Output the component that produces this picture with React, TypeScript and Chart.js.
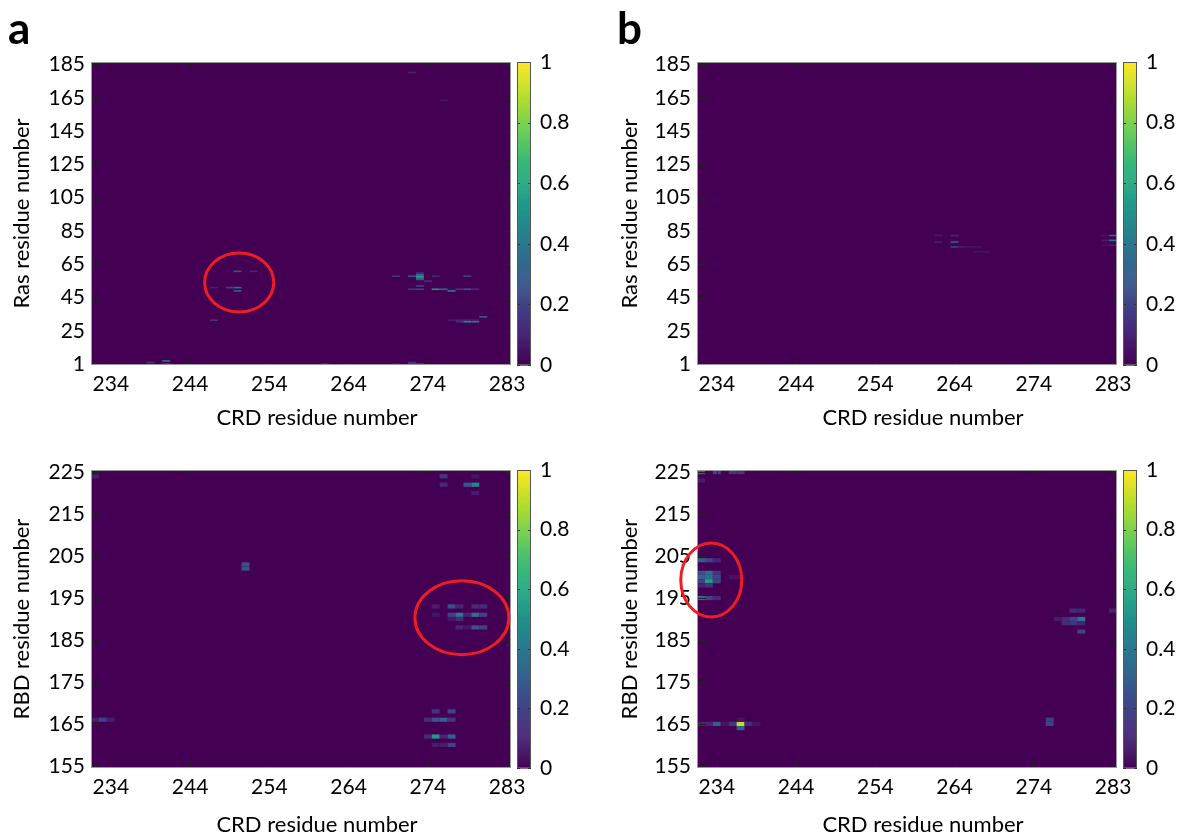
import React, { useEffect, useRef } from 'react';
import { Chart, registerables } from 'chart.js';
Chart.register(...registerables);

const FONT = 'Lato, "Open Sans", sans-serif';

// ---- axis tick labels ----
const crdTickLabels = ['234', '244', '254', '264', '274', '283'];
const crdTickStart = 234;
const crdTickStep = 10;
const rasTickLabels = ['1', '25', '45', '65', '85', '105', '125', '145', '165', '185'];
const rbdTickLabels = ['155', '165', '175', '185', '195', '205', '215', '225'];
const cbTickValues = [0, 0.2, 0.4, 0.6, 0.8, 1];
const xTitle = 'CRD residue number';

// ---- axis ranges (residue units) ----
const crdRange = [231.5, 284.5];
const rasRange = [0.5, 186.5];
const rbdRange = [154.5, 225.5];

// ---- contact maps: [CRD residue, partner residue, contact probability] ----
const rasCrdA: [number, number, number][] = [
  [250, 58, 0.25], [252, 58, 0.1], [247, 48, 0.08], [249, 48, 0.2], [250, 48, 0.35], [250, 46, 0.3], [247, 28, 0.15],
  [270, 55, 0.15], [272, 55, 0.25], [273, 57, 0.1], [273, 56, 0.35], [273, 55, 0.55], [273, 54, 0.5], [273, 53, 0.3],
  [274, 52, 0.12], [275, 55, 0.1], [279, 55, 0.2], [273, 49, 0.2],
  [272, 47, 0.15], [273, 47, 0.2], [275, 47, 0.5], [276, 47, 0.3], [277, 46, 0.4], [278, 47, 0.15], [279, 47, 0.25], [280, 47, 0.12],
  [277, 28, 0.08], [278, 28, 0.1], [279, 28, 0.12], [280, 28, 0.1], [278, 27, 0.12], [279, 27, 0.45], [280, 27, 0.35], [281, 30, 0.3],
  [239, 2, 0.15], [241, 3, 0.35], [241, 1, 0.2], [261, 1, 0.15], [270, 1, 0.1], [272, 1, 0.25], [273, 1, 0.25], [272, 2, 0.15],
  [272, 180, 0.1], [276, 163, 0.06],
];

const rbdCrdA: [number, number, number][] = [
  [276, 224, 0.15], [276, 222, 0.12], [279, 222, 0.25], [280, 222, 0.45], [280, 224, 0.05], [280, 220, 0.08], [232, 224, 0.08],
  [251, 203, 0.25], [251, 202, 0.25], [232, 166, 0.08], [233, 166, 0.2], [234, 166, 0.08],
  [277, 193, 0.25], [275, 193, 0.08], [278, 193, 0.1], [280, 193, 0.12], [281, 193, 0.12],
  [275, 191, 0.06], [277, 191, 0.2], [278, 191, 0.4], [279, 191, 0.1], [280, 191, 0.35], [281, 191, 0.2],
  [277, 190, 0.06], [278, 190, 0.12], [278, 188, 0.1], [279, 188, 0.06], [280, 188, 0.25], [281, 188, 0.2],
  [275, 168, 0.15], [277, 168, 0.2], [274, 166, 0.12], [275, 166, 0.25], [276, 166, 0.3], [277, 166, 0.15],
  [274, 162, 0.12], [275, 162, 0.55], [276, 162, 0.1], [277, 162, 0.3], [275, 160, 0.08], [276, 160, 0.08], [277, 160, 0.2],
];

const rasCrdB: [number, number, number][] = [
  [262, 80, 0.08], [264, 80, 0.1], [262, 76, 0.08], [264, 76, 0.3], [264, 73, 0.2], [265, 73, 0.08], [266, 73, 0.06],
  [267, 73, 0.05], [267, 70, 0.05], [268, 70, 0.05],
  [284, 80, 0.3], [284, 77, 0.4], [284, 74, 0.1], [283, 77, 0.08], [283, 74, 0.05], [283, 80, 0.05],
];

const rbdCrdB: [number, number, number][] = [
  [232, 225, 0.3], [234, 225, 0.2], [236, 225, 0.15], [237, 225, 0.15], [232, 223, 0.08],
  [232, 204, 0.3], [233, 204, 0.2], [234, 204, 0.1],
  [232, 201, 0.25], [233, 201, 0.35], [234, 201, 0.15],
  [232, 200, 0.3], [233, 200, 0.35], [234, 200, 0.2],
  [232, 199, 0.2], [233, 199, 0.55], [234, 199, 0.2],
  [232, 198, 0.1], [233, 198, 0.15],
  [232, 195, 0.35], [233, 195, 0.2], [234, 195, 0.12],
  [236, 200, 0.05], [237, 200, 0.05],
  [232, 165, 0.1], [233, 165, 0.1], [234, 165, 0.3], [235, 165, 0.05], [236, 165, 0.15], [237, 165, 0.9],
  [238, 165, 0.12], [239, 165, 0.05], [237, 164, 0.3], [237, 166, 0.05],
  [276, 166, 0.2], [276, 165, 0.2],
  [277, 190, 0.07], [278, 190, 0.12], [279, 190, 0.2], [280, 190, 0.4], [279, 192, 0.12], [280, 192, 0.1],
  [278, 189, 0.12], [279, 189, 0.15], [280, 189, 0.1], [280, 187, 0.2], [284, 192, 0.1],
];

// ---- highlight ellipses: [centre CRD, centre partner, radius CRD, radius partner] ----
const ellipseA1: [number, number, number, number][] = [[250.2, 51.1, 4.36, 18.1]];
const ellipseA2: [number, number, number, number][] = [[278.3, 190.3, 5.93, 8.8]];
const ellipseB1: [number, number, number, number][] = [];
const ellipseB2: [number, number, number, number][] = [[233.3, 199.3, 3.85, 8.8]];

const viridisStops = ['#440154', '#482878', '#3e4989', '#31688e', '#26828e', '#1f9e89', '#35b779', '#6ece58', '#b5de2b', '#fde725'];

function hexToRgb(h: string) {
  return [parseInt(h.slice(1, 3), 16), parseInt(h.slice(3, 5), 16), parseInt(h.slice(5, 7), 16)];
}
function viridis(t: number) {
  const c = Math.max(0, Math.min(1, t)) * (viridisStops.length - 1);
  const i = Math.min(Math.floor(c), viridisStops.length - 2);
  const f = c - i;
  const a = hexToRgb(viridisStops[i]);
  const b = hexToRgb(viridisStops[i + 1]);
  const r = a.map((v, k) => Math.round(v + (b[k] - v) * f));
  return `rgb(${r[0]},${r[1]},${r[2]})`;
}

const heatPlugin = {
  id: 'heat',
  beforeDatasetsDraw(chart: any) {
    const { ctx, chartArea: a, scales } = chart;
    const x = scales.x, y = scales.y;
    ctx.save();
    ctx.beginPath();
    ctx.rect(a.left, a.top, a.right - a.left, a.bottom - a.top);
    ctx.clip();
    ctx.fillStyle = viridis(0);
    ctx.fillRect(a.left, a.top, a.right - a.left, a.bottom - a.top);
    const data = chart.data.datasets[0].data;
    for (const d of data) {
      const x0 = x.getPixelForValue(d.x - 0.5), x1 = x.getPixelForValue(d.x + 0.5);
      const y0 = y.getPixelForValue(d.y + 0.5), y1 = y.getPixelForValue(d.y - 0.5);
      ctx.fillStyle = viridis(d.v);
      ctx.fillRect(x0, y0, x1 - x0, y1 - y0);
    }
    ctx.restore();
  },
  afterDatasetsDraw(chart: any, _args: any, opts: any) {
    const { ctx, chartArea: a, scales } = chart;
    const x = scales.x, y = scales.y, cb = scales.cb;
    ctx.save();
    // inner tick marks
    ctx.strokeStyle = '#222';
    ctx.lineWidth = 1;
    ctx.beginPath();
    for (const t of x.ticks) {
      const px = Math.round(x.getPixelForValue(t.value)) + 0.5;
      ctx.moveTo(px, a.bottom); ctx.lineTo(px, a.bottom - 6);
      ctx.moveTo(px, a.top); ctx.lineTo(px, a.top + 5);
    }
    for (const t of y.ticks) {
      const py = Math.round(y.getPixelForValue(t.value)) + 0.5;
      ctx.moveTo(a.left, py); ctx.lineTo(a.left + 9, py);
      ctx.moveTo(a.right, py); ctx.lineTo(a.right - 6, py);
    }
    ctx.stroke();
    // frame
    ctx.strokeStyle = '#999';
    ctx.strokeRect(a.left + 0.5, a.top + 0.5, a.right - a.left - 1, a.bottom - a.top - 1);
    // ellipses
    ctx.strokeStyle = '#ee1d23';
    ctx.lineWidth = 3;
    for (const [cx, cy, rx, ry] of opts.ellipses || []) {
      const px = x.getPixelForValue(cx), py = y.getPixelForValue(cy);
      const prx = Math.abs(x.getPixelForValue(cx + rx) - px);
      const pry = Math.abs(y.getPixelForValue(cy + ry) - py);
      ctx.beginPath();
      ctx.ellipse(px, py, prx, pry, 0, 0, Math.PI * 2);
      ctx.stroke();
    }
    // colour bar
    const bx0 = a.right + 6, bx1 = a.right + 20;
    const top = cb.getPixelForValue(1), bot = cb.getPixelForValue(0);
    const n = 300;
    for (let i = 0; i < n; i++) {
      const v0 = i / n, v1 = (i + 1) / n;
      const ya = cb.getPixelForValue(v1), yb = cb.getPixelForValue(v0);
      ctx.fillStyle = viridis((v0 + v1) / 2);
      ctx.fillRect(bx0, ya, bx1 - bx0, yb - ya + 0.6);
    }
    ctx.strokeStyle = '#333';
    ctx.lineWidth = 1;
    ctx.beginPath();
    for (const t of cb.ticks) {
      const py = Math.round(cb.getPixelForValue(t.value)) + 0.5;
      ctx.moveTo(bx0, py); ctx.lineTo(bx0 + 3, py);
      ctx.moveTo(bx1, py); ctx.lineTo(bx1 - 3, py);
    }
    ctx.stroke();
    ctx.strokeStyle = '#555';
    ctx.strokeRect(bx0 + 0.5, top + 0.5, bx1 - bx0 - 1, bot - top - 1);
    // x-axis title (sits slightly right of plot centre, as in the figure)
    ctx.fillStyle = '#000';
    ctx.font = `22px ${FONT}`;
    ctx.textAlign = 'center';
    ctx.textBaseline = 'middle';
    ctx.fillText(xTitle, (a.left + a.right) / 2 + 16, chart.height - 12);
    ctx.restore();
  },
};

type Panel = {
  left: number; top: number; width: number; height: number;
  xAxisH: number; cbW: number; yTitlePad: number;
  yTitle: string; yRange: number[]; yLabels: string[];
  cells: [number, number, number][]; ellipses: [number, number, number, number][];
};

function evenTicks(range0: number, range1: number, n: number) {
  const out: number[] = [];
  for (let i = 0; i < n; i++) out.push(range0 + (i * (range1 - range0)) / (n - 1));
  return out;
}

function HeatPanel({ p }: { p: Panel }) {
  const ref = useRef<HTMLCanvasElement>(null);
  useEffect(() => {
    if (!ref.current) return;
    const xTickVals = crdTickLabels.map((_, i) => crdTickStart + i * crdTickStep);
    const yTickVals = evenTicks(Number(p.yLabels[0]), Number(p.yLabels[p.yLabels.length - 1]), p.yLabels.length);
    const tickFont = { family: FONT, size: 21 };
    const titleFont = { family: FONT, size: 22 };
    const chart = new Chart(ref.current, {
      type: 'scatter',
      data: {
        datasets: [{ data: p.cells.map(([x, y, v]) => ({ x, y, v })) as any, pointRadius: 0, showLine: false }],
      },
      options: {
        animation: false,
        responsive: false,
        events: [],
        layout: { padding: { top: 62, left: 0, right: 0, bottom: 0 } },
        plugins: {
          legend: { display: false },
          tooltip: { enabled: false },
          heat: { ellipses: p.ellipses },
        } as any,
        scales: {
          x: {
            type: 'linear', position: 'bottom', min: crdRange[0], max: crdRange[1],
            afterBuildTicks: (s: any) => { s.ticks = xTickVals.map((value) => ({ value })); },
            afterFit: (s: any) => { s.height = p.xAxisH; },
            ticks: { autoSkip: false, maxRotation: 0, padding: 7, font: tickFont, color: '#000',
              callback: (_v: any, i: number) => crdTickLabels[i] },
            grid: { display: false, drawTicks: false }, border: { display: false },
          },
          y: {
            type: 'linear', position: 'left', min: p.yRange[0], max: p.yRange[1],
            afterBuildTicks: (s: any) => { s.ticks = yTickVals.map((value) => ({ value })); },
            afterFit: (s: any) => { s.width = 91; },
            ticks: { autoSkip: false, padding: 6, font: tickFont, color: '#000',
              callback: (_v: any, i: number) => p.yLabels[i] },
            grid: { display: false, drawTicks: false }, border: { display: false },
            title: { display: true, text: p.yTitle, font: titleFont, color: '#000', padding: { top: p.yTitlePad, bottom: 0 } },
          },
          cb: {
            type: 'linear', axis: 'y', position: 'right', min: 0, max: 1,
            afterBuildTicks: (s: any) => { s.ticks = cbTickValues.map((value) => ({ value })); },
            afterFit: (s: any) => { s.width = p.cbW; },
            ticks: { autoSkip: false, padding: 29, font: tickFont, color: '#000',
              callback: (v: any) => String(Math.round(Number(v) * 10) / 10) },
            grid: { display: false, drawTicks: false, drawOnChartArea: false }, border: { display: false },
          },
        } as any,
      },
      plugins: [heatPlugin],
    });
    return () => chart.destroy();
  }, [p]);
  return (
    <canvas ref={ref} width={p.width} height={p.height}
      style={{ position: 'absolute', left: p.left, top: p.top, width: p.width, height: p.height }} />
  );
}

const panels: Panel[] = [
  { left: 0, top: 0, width: 600, height: 430, xAxisH: 65, cbW: 89, yTitlePad: 9,
    yTitle: 'Ras residue number', yRange: rasRange, yLabels: rasTickLabels, cells: rasCrdA, ellipses: ellipseA1 },
  { left: 0, top: 408, width: 600, height: 429, xAxisH: 69, cbW: 89, yTitlePad: 9,
    yTitle: 'RBD residue number', yRange: rbdRange, yLabels: rbdTickLabels, cells: rbdCrdA, ellipses: ellipseA2 },
  { left: 606, top: 0, width: 585, height: 430, xAxisH: 65, cbW: 74, yTitlePad: 11,
    yTitle: 'Ras residue number', yRange: rasRange, yLabels: rasTickLabels, cells: rasCrdB, ellipses: ellipseB1 },
  { left: 606, top: 408, width: 585, height: 429, xAxisH: 69, cbW: 74, yTitlePad: 11,
    yTitle: 'RBD residue number', yRange: rbdRange, yLabels: rbdTickLabels, cells: rbdCrdB, ellipses: ellipseB2 },
];

export default function App() {
  return (
    <div style={{ position: 'absolute', left: 0, top: 0, width: 1191, height: 837, background: '#fff', overflow: 'hidden' }}>
      {panels.map((p, i) => <HeatPanel key={i} p={p} />)}
      <div style={{ position: 'absolute', left: 8, top: 2, font: `bold 44px ${FONT}`, color: '#000', lineHeight: '50px' }}>a</div>
      <div style={{ position: 'absolute', left: 617, top: 2, font: `bold 44px ${FONT}`, color: '#000', lineHeight: '50px' }}>b</div>
    </div>
  );
}
